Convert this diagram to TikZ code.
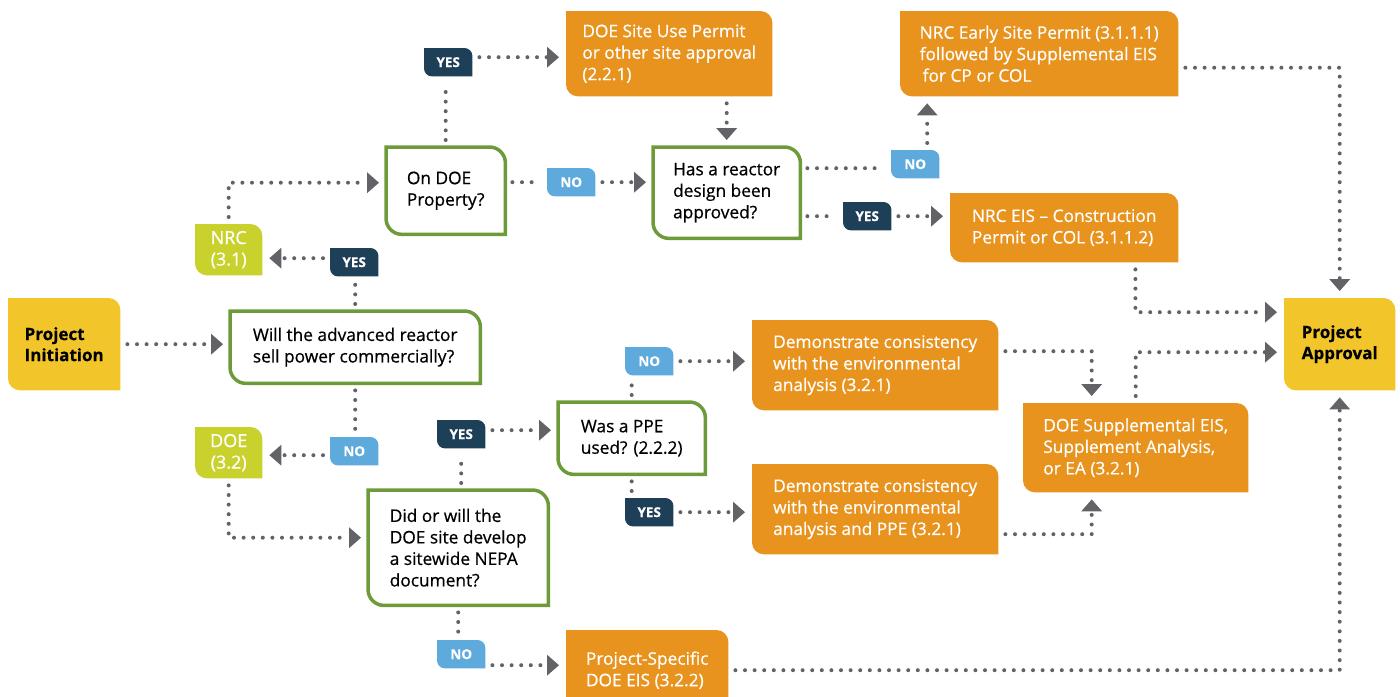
\documentclass[tikz,border=0pt]{standalone}
\usepackage{fontspec}
\setmainfont{Open Sans}[FakeBold=0.6]
\usetikzlibrary{arrows.meta,backgrounds}

\definecolor{boxorange}{HTML}{E8931E}
\definecolor{boxyellow}{HTML}{F2C52B}
\definecolor{boxlime}{HTML}{C9D22C}
\definecolor{qgreen}{HTML}{6D9B3A}
\definecolor{tagnavy}{HTML}{1E3F58}
\definecolor{tagblue}{HTML}{5EAADC}
\definecolor{dotgray}{HTML}{626366}

% box with rounded top right and bottom left corners
\newcommand{\leafbox}[3][12pt]{%
  \path[#3] (#2.north west) -- ([xshift=-#1]#2.north east)
    arc[start angle=90,end angle=0,radius=#1] -- (#2.south east)
    -- ([xshift=#1]#2.south west)
    arc[start angle=270,end angle=180,radius=#1] -- cycle;}

\tikzset{
  every node/.style={anchor=north west, inner ysep=0pt, font=\fontsize{17.3}{21.5}\selectfont},
  dims/.style 2 args={minimum width=#1, minimum height=#2},
  answer/.style={inner xsep=0pt, align=left, text=white},
  goal/.style={inner xsep=0pt, align=left, font=\bfseries\fontsize{17}{21}\selectfont},
  question/.style={inner xsep=0pt, align=left},
  agency/.style={inner sep=0pt, align=center, text=white, dims={67pt}{51pt}, font=\fontsize{18}{21.5}\selectfont},
  tag/.style={inner sep=0pt, text=white, dims={48pt}{28pt}, font=\bfseries\fontsize{13.5}{15}\selectfont},
  dots/.style={draw=dotgray, line width=4pt, line cap=round, dash pattern=on 0pt off 9.6pt,
    shorten <=7pt, shorten >=7pt},
  link/.style={dots, -{Triangle[length=12pt,width=21pt,line width=0pt]}}
}

\begin{document}
\begin{tikzpicture}[x=1pt,y=1pt]
\useasboundingbox (0,0) rectangle (1400,-696);

% start and end
\node[goal, dims={112pt}{92pt}] (init) at (8,-298) {Project\\Initiation};
\node[goal, dims={111pt}{92pt}] (approval) at (1284,-298) {Project\\Approval};

% questions
\node[question, dims={250pt}{72pt}] (sell) at (230,-311) {Will the advanced reactor\\sell power commercially?};
\node[question, dims={119pt}{87pt}] (ondoe) at (386,-147) {On DOE\\Property?};
\node[question, dims={147pt}{91pt}] (design) at (653,-147) {Has a reactor\\design been\\approved?};
\node[question, dims={180pt}{115pt}] (sitewide) at (368,-490) {Did or will the\\DOE site develop\\a sitewide NEPA\\document?};
\node[question, dims={147pt}{72pt}] (ppe) at (558,-402) {Was a PPE\\used? (2.2.2)};

% agencies
\node[agency] (nrc) at (195,-224) {NRC\\(3.1)};
\node[agency] (doe) at (195,-427) {DOE\\(3.2)};

% outcomes
\node[answer, dims={206pt}{85pt}] (siteuse) at (566,-11) {DOE Site Use Permit\\or other site approval\\(2.2.1)};
\node[answer, dims={278pt}{85pt}] (early) at (900,-11) {NRC Early Site Permit (3.1.1.1)\\followed by Supplemental EIS\\\hspace*{3pt}for CP or COL};
\node[answer, dims={228pt}{69pt}] (nrceis) at (950,-193) {NRC EIS -- Construction\\Permit or COL (3.1.1.2)};
\node[answer, dims={246pt}{90pt}] (demoa) at (752,-320) {Demonstrate consistency\\with the environmental\\analysis (3.2.1)};
\node[answer, dims={246pt}{90pt}] (demob) at (752,-464) {Demonstrate consistency\\with the environmental\\analysis and PPE (3.2.1)};
\node[answer, dims={225pt}{89pt}] (supp) at (1023,-403) {DOE Supplemental EIS,\\Supplement Analysis,\\or EA (3.2.1)};
\node[answer, dims={162pt}{80pt}] (specific) at (566,-630) {Project-Specific\\DOE EIS (3.2.2)};

% yes / no tags
\node[tag] (yesnrc) at (330,-248) {YES};
\node[tag] (nodoe) at (330,-437) {NO};
\node[tag] (yesprop) at (424,-48) {YES};
\node[tag] (noprop) at (547,-168) {NO};
\node[tag] (nodesign) at (891,-150) {NO};
\node[tag] (yesdesign) at (843,-202) {YES};
\node[tag] (yesnepa) at (437,-420) {YES};
\node[tag] (nonepa) at (437,-640) {NO};
\node[tag] (noppe) at (625,-347) {NO};
\node[tag] (yesppe) at (625,-498) {YES};

\begin{scope}[on background layer]
\leafbox{init}{fill=boxyellow};
\leafbox{approval}{fill=boxyellow};
\foreach \n in {nrc,doe} \leafbox{\n}{fill=boxlime};
\foreach \n in {siteuse,early,nrceis,demoa,demob,supp,specific} \leafbox{\n}{fill=boxorange};
\foreach \n in {sell,ondoe,design,sitewide,ppe} \leafbox[16pt]{\n}{fill=white, draw=qgreen, line width=3.5pt};
\foreach \n in {yesnrc,yesprop,yesdesign,yesnepa,yesppe} \leafbox[8pt]{\n}{fill=tagnavy};
\foreach \n in {nodoe,noprop,nodesign,nonepa,noppe} \leafbox[8pt]{\n}{fill=tagblue};
\end{scope}

% connectors
\draw[link] (init.east) -- (init.east -| sell.west);
\draw[dots] (sell.north) -- (sell.north |- yesnrc.south);
\draw[link] ([yshift=4pt]yesnrc.west) -- ([yshift=4pt]yesnrc.west -| nrc.east);
\draw[link] (nrc.north) |- ([yshift=8pt]ondoe.west);
\draw[dots] (ondoe.north) -- (ondoe.north |- yesprop.south);
\draw[link] ([yshift=5pt]yesprop.east) -- ([yshift=5pt]yesprop.east -| siteuse.west);
\draw[dots] (noprop.west -| ondoe.east) -- (noprop.west);
\draw[link] (noprop.east) -- (noprop.east -| design.west);
\draw[link] (design.north |- siteuse.south) -- (design.north);
\draw[dots] ([yshift=-4pt]nodesign.west -| design.east) -- ([yshift=-4pt]nodesign.west);
\draw[link] ([xshift=12pt]nodesign.north) -- ([xshift=12pt]nodesign.north |- early.south);
\draw[dots] (yesdesign.west -| design.east) -- (yesdesign.west);
\draw[link] (yesdesign.east) -- (yesdesign.east -| nrceis.west);
\draw[link] ([yshift=-14pt]early.east) -| (approval.north);
\draw[link] ([xshift=-43pt]nrceis.south east) |- ([yshift=32pt]approval.west);
\draw[dots] (sell.south) -- (sell.south |- nodoe.north);
\draw[link] ([yshift=-4pt]nodoe.west) -- ([yshift=-4pt]nodoe.west -| doe.east);
\draw[link] (doe.south) |- ([yshift=10pt]sitewide.west);
\draw[dots] (yesnepa.south |- sitewide.north) -- (yesnepa.south);
\draw[link] ([yshift=4pt]yesnepa.east) -- ([yshift=4pt]yesnepa.east -| ppe.west);
\draw[dots] (ppe.north) -- (ppe.north |- noppe.south);
\draw[link] (noppe.east) -- (noppe.east -| demoa.west);
\draw[dots] (ppe.south) -- (ppe.south |- yesppe.north);
\draw[link] (yesppe.east) -- (yesppe.east -| demob.west);
\draw[link] ([yshift=14pt]demoa.east) -| ([xshift=-44pt]supp.north);
\draw[link] ([yshift=-25pt]demob.east) -| ([xshift=-44pt]supp.south);
\draw[link] (supp.north) |- ([yshift=-8pt]approval.west);
\draw[dots] (sitewide.south) -- (sitewide.south |- nonepa.north);
\draw[link] ([yshift=-11pt]nonepa.east) -- ([yshift=-11pt]nonepa.east -| specific.west);
\draw[link] (specific.east) -| (approval.south);
\end{tikzpicture}
\end{document}
